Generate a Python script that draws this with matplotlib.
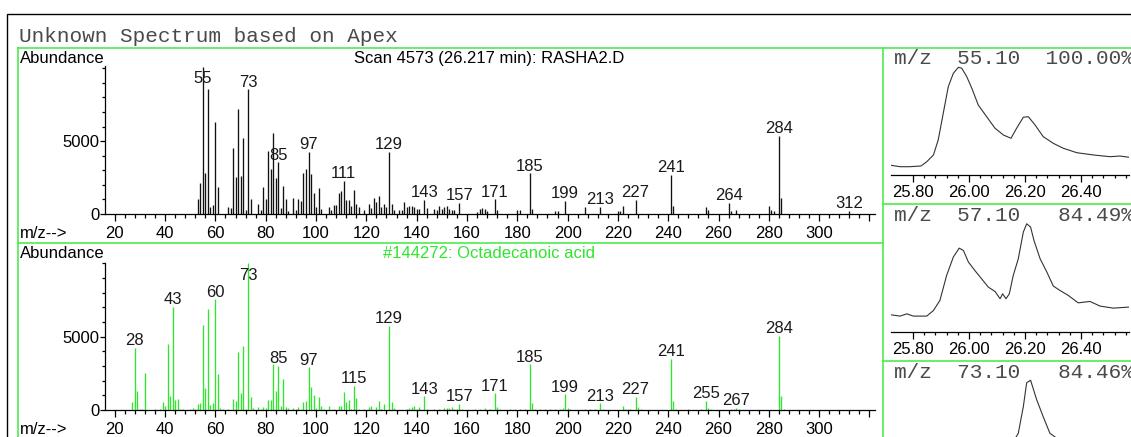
import matplotlib
matplotlib.use("Agg")
import matplotlib.pyplot as plt
from matplotlib.ticker import MultipleLocator, FixedLocator, FormatStrFormatter, FuncFormatter

W, H = 1131, 437
DPI = 100

SANS = "Liberation Sans"
MONO = "Liberation Mono"
GREEN = "#2ee62e"
FRAME_GREEN = "#4cec4c"
GREY_TEXT = "#4a4a4a"

# scan 4573 (26.217 min), RASHA2.D
scan_mz = [53, 54, 55, 56, 57, 58, 59, 60, 61, 65, 66, 67, 68, 69, 70, 71, 72, 73, 74,
           77, 78, 79, 80, 81, 82, 83, 84, 85, 86, 87, 88, 89, 91, 92, 93, 94, 95, 96,
           97, 98, 99, 100, 101, 102, 105, 106, 107, 108, 109, 110, 111, 112, 113, 114,
           115, 116, 117, 119, 121, 122, 123, 124, 125, 126, 127, 128, 129, 130, 131,
           133, 134, 135, 136, 137, 138, 139, 140, 141, 143, 144, 147, 148, 149, 150,
           151, 152, 153, 154, 155, 157, 164, 165, 166, 167, 168, 171, 172, 180, 181,
           185, 186, 195, 196, 199, 207, 213, 220, 221, 222, 227, 241, 242, 255, 256,
           264, 265, 267, 280, 281, 282, 284, 285, 312]
scan_abund = [1000, 2100, 10100, 2790, 8540, 460, 620, 6320, 1830, 480, 390, 4540, 2560,
              7170, 2600, 5180, 270, 8540, 1000, 690, 270, 1830, 1000, 4320, 3080, 5570,
              2450, 3540, 390, 1920, 1000, 230, 1120, 270, 1000, 910, 2830, 3080, 4270,
              2740, 1420, 460, 1760, 320, 480, 300, 590, 590, 1460, 1580, 2280, 960, 960,
              550, 1640, 690, 460, 270, 690, 390, 1070, 850, 1230, 460, 690, 460, 4270,
              690, 270, 300, 300, 850, 500, 550, 550, 460, 320, 320, 960, 390, 360, 250,
              550, 360, 450, 520, 320, 270, 270, 780, 160, 320, 390, 340, 230, 1000, 270,
              270, 270, 2790, 370, 200, 200, 910, 500, 500, 200, 200, 550, 960, 2670, 550,
              500, 270, 780, 230, 270, 550, 270, 200, 5360, 1070, 230]
scan_peaks = [55, 73, 85, 97, 111, 129, 143, 157, 171, 185, 199, 213, 227, 241, 264, 284, 312]

# library hit #144272, Octadecanoic acid
lib_mz = [27, 28, 29, 30, 31, 32, 36, 38, 39, 40, 41, 42, 43, 44, 45, 46, 47, 50, 51, 52,
          53, 54, 55, 56, 57, 58, 59, 60, 61, 62, 63, 65, 67, 68, 69, 70, 71, 72, 73, 74,
          75, 77, 78, 79, 80, 81, 82, 83, 84, 85, 86, 87, 88, 89, 91, 92, 93, 94, 95, 96,
          97, 98, 99, 100, 101, 102, 103, 105, 107, 109, 110, 111, 112, 113, 114, 115,
          116, 117, 119, 121, 122, 124, 125, 126, 127, 129, 130, 131, 136, 137, 138, 139,
          140, 141, 143, 144, 147, 149, 151, 152, 153, 154, 155, 156, 157, 158, 163, 165,
          167, 169, 171, 172, 173, 177, 179, 181, 183, 185, 186, 187, 189, 191, 193, 195,
          197, 198, 199, 200, 201, 207, 209, 211, 213, 214, 222, 223, 224, 225, 227, 228,
          229, 241, 242, 243, 248, 253, 255, 256, 257, 265, 266, 267, 268, 284, 285, 286]
lib_abund = [520, 4250, 1320, 100, 100, 2500, 100, 100, 520, 270, 4480, 980, 7050, 680,
             750, 100, 100, 100, 160, 100, 390, 450, 5800, 1480, 6890, 340, 450, 7550,
             2430, 110, 100, 100, 750, 610, 3930, 1180, 4360, 100, 10050, 910, 110, 230,
             100, 230, 160, 680, 680, 3110, 1320, 3000, 270, 2110, 230, 160, 160, 100,
             230, 100, 520, 610, 2910, 1550, 1020, 160, 910, 300, 100, 300, 100, 300, 300,
             1250, 570, 680, 100, 1660, 800, 100, 100, 230, 300, 230, 610, 100, 390, 5730,
             570, 110, 100, 150, 230, 300, 100, 230, 930, 100, 70, 100, 150, 150, 150, 230,
             100, 100, 430, 100, 70, 100, 120, 100, 1140, 230, 100, 100, 100, 100, 100,
             3110, 450, 100, 100, 100, 100, 100, 100, 150, 1070, 150, 70, 100, 100, 100,
             450, 100, 270, 100, 100, 100, 910, 230, 100, 3480, 610, 100, 100, 100, 610,
             150, 100, 100, 100, 160, 100, 5050, 980, 100]
lib_peaks = [28, 43, 60, 73, 85, 97, 115, 129, 143, 157, 171, 185, 199, 213, 227, 241,
             255, 267, 284]

# extracted ion chromatograms (% of each trace's own maximum)
eic_ions = ["55.10", "57.10", "73.10"]
eic_share = ["100.00%", "84.49%", "84.46%"]

eic55_time = [25.721, 25.754, 25.789, 25.829, 25.849, 25.873, 25.890, 25.908, 25.926,
              25.944, 25.962, 25.974, 25.992, 26.010, 26.033, 26.063, 26.093, 26.123,
              26.150, 26.170, 26.194, 26.212, 26.236, 26.265, 26.301, 26.337, 26.385,
              26.444, 26.504, 26.539, 26.573]
eic55_resp = [9.0, 7.7, 7.7, 8.4, 12.3, 18.6, 32.5, 57.3, 82.0, 94.4, 100.0, 99.1, 91.3,
              80.5, 65.0, 54.1, 43.4, 37.1, 34.1, 43.4, 53.6, 54.1, 46.4, 35.6, 29.4,
              24.8, 20.7, 18.6, 17.0, 17.6, 16.4]

eic57_time = [25.721, 25.754, 25.778, 25.801, 25.849, 25.873, 25.896, 25.920, 25.944,
              25.965, 25.980, 25.998, 26.021, 26.045, 26.069, 26.093, 26.111, 26.120,
              26.132, 26.144, 26.158, 26.176, 26.194, 26.206, 26.220, 26.232, 26.254,
              26.278, 26.301, 26.325, 26.355, 26.390, 26.432, 26.468, 26.515, 26.573]
eic57_resp = [15.5, 14.3, 16.4, 14.3, 14.3, 19.5, 28.8, 52.0, 69.1, 77.4, 75.2, 64.4,
              56.6, 48.9, 41.2, 37.1, 30.4, 35.0, 30.4, 35.0, 52.0, 67.5, 92.3, 100.0,
              96.9, 84.5, 67.5, 55.2, 42.2, 38.1, 33.4, 26.6, 27.9, 23.6, 21.7, 22.7]

eic73_time = [25.721, 25.960, 26.110, 26.176, 26.194, 26.206, 26.220, 26.242, 26.265,
              26.289, 26.400, 26.573]
eic73_resp = [10.0, 30.0, 22.0, 50.8, 75.5, 97.8, 100.0, 81.7, 66.2, 50.8, 30.0, 20.0]


def px_axes(fig, x0, y0, x1, y1):
    """Add axes from pixel box (top-left origin)."""
    return fig.add_axes([x0 / W, 1 - y1 / H, (x1 - x0) / W, (y1 - y0) / H])


def mz_label(value, pos):
    # the last tick at 320 is left unlabelled
    return "" if value > 310 else f"{value:.0f}"


def draw_spectrum(ax, mz, abund, peaks, color, ymax):
    ax.vlines(mz, 0, abund, color=color, lw=0.95)
    heights = dict(zip(mz, abund))
    for p in peaks:
        y = min(heights[p], 0.865 * ymax)
        ax.annotate(str(p), (p, y), xytext=(0, 2), textcoords="offset points",
                    ha="center", va="baseline", fontsize=12, family=SANS,
                    color="#1a1a1a")

    ax.set_xlim(16.1, 322.2)
    ax.set_ylim(0, ymax)
    ax.patch.set_alpha(0)
    for side in ("top", "right"):
        ax.spines[side].set_visible(False)
    for side in ("left", "bottom"):
        ax.spines[side].set_linewidth(0.9)

    ax.xaxis.set_major_locator(MultipleLocator(20))
    ax.xaxis.set_major_formatter(FuncFormatter(mz_label))
    ax.xaxis.set_minor_locator(MultipleLocator(4))
    ax.set_yticks([0, 5000])
    ax.yaxis.set_minor_locator(MultipleLocator(1000))
    ax.tick_params(axis="x", which="major", length=5, width=0.9, pad=3.5, labelsize=12)
    ax.tick_params(axis="x", which="minor", length=3, width=0.9)
    ax.tick_params(axis="y", which="major", length=3.5, width=0.9, pad=0.5, labelsize=12)
    ax.tick_params(axis="y", which="minor", length=2, width=0.9)
    for lab in ax.get_xticklabels() + ax.get_yticklabels():
        lab.set_family(SANS)


def draw_eic(ax, times, resp):
    ax.plot(times, resp, color="#333333", lw=0.8)
    ax.set_xlim(25.7214, 26.5725)
    ax.set_ylim(0, 117.9)
    ax.patch.set_alpha(0)
    for side in ("top", "right", "left"):
        ax.spines[side].set_visible(False)
    ax.spines["bottom"].set_linewidth(0.9)
    ax.set_yticks([])
    ax.xaxis.set_major_locator(FixedLocator([25.80, 26.00, 26.20, 26.40]))
    ax.xaxis.set_major_formatter(FormatStrFormatter("%.2f"))
    ax.xaxis.set_minor_locator(FixedLocator([25.80 + 0.04 * k for k in range(20)]))
    ax.tick_params(axis="x", which="major", length=4.8, width=0.9, pad=2.5, labelsize=12)
    ax.tick_params(axis="x", which="minor", length=2.4, width=0.9)
    for lab in ax.get_xticklabels():
        lab.set_family(SANS)


fig = plt.figure(figsize=(W / DPI, H / DPI), dpi=DPI)
fig.patch.set_facecolor("white")

# pixel-space layer for frames and captions
bg = fig.add_axes([0, 0, 1, 1], zorder=-1)
bg.set_xlim(0, W)
bg.set_ylim(H, 0)
bg.axis("off")

# outer report frame
bg.plot([7.3, 7.3, W + 5], [H + 5, 14, 14], color="black", lw=1.0, solid_joinstyle="miter")
# green panel frames
bg.plot([18.3, W + 5], [47.5, 47.5], color=FRAME_GREEN, lw=1.2)
bg.plot([18.3, 18.3], [47.5, H + 5], color=FRAME_GREEN, lw=1.2)
bg.plot([883.3, 883.3], [47.5, H + 5], color=FRAME_GREEN, lw=1.2)
bg.plot([18.3, 883.3], [242.5, 242.5], color=FRAME_GREEN, lw=1.2)
bg.plot([883.3, W + 5], [204.3, 204.3], color=FRAME_GREEN, lw=1.2)
bg.plot([883.3, W + 5], [361.0, 361.0], color=FRAME_GREEN, lw=1.2)

bg.text(19, 41.5, "Unknown Spectrum based on Apex", family=MONO, fontsize=15.1,
        color=GREY_TEXT, va="baseline")
bg.text(20, 63.3, "Abundance", family=SANS, fontsize=12, va="baseline")
bg.text(489.5, 63.5, "Scan 4573 (26.217 min): RASHA2.D", family=SANS, fontsize=12,
        va="baseline", ha="center")
bg.text(20, 238.5, "m/z-->", family=SANS, fontsize=12, va="baseline")
bg.text(20, 258.3, "Abundance", family=SANS, fontsize=12, va="baseline")
bg.text(489, 258.3, "#144272: Octadecanoic acid", family=SANS, fontsize=12,
        va="baseline", ha="center", color=GREEN)
bg.text(20, 434, "m/z-->", family=SANS, fontsize=12, va="baseline")

# mass spectra
ax_scan = px_axes(fig, 105, 66, 875, 214)
draw_spectrum(ax_scan, scan_mz, scan_abund, scan_peaks, "#111111", 10150)

ax_lib = px_axes(fig, 105, 262.5, 875, 410)
draw_spectrum(ax_lib, lib_mz, lib_abund, lib_peaks, GREEN, 10060)

# ion chromatograms on the right
eic_data = [(eic55_time, eic55_resp), (eic57_time, eic57_resp), (eic73_time, eic73_resp)]
for i, ((times, resp), ion, share) in enumerate(zip(eic_data, eic_ions, eic_share)):
    top = 48 + i * 156.5
    ax = px_axes(fig, 891, top, 1129.3, top + 127)
    draw_eic(ax, times, resp)
    bg.text(894, 64 + i * 157, f"m/z  {ion}  {share:>7}", family=MONO, fontsize=15.1,
            color=GREY_TEXT, va="baseline")

fig.savefig("out.png", dpi=DPI)
